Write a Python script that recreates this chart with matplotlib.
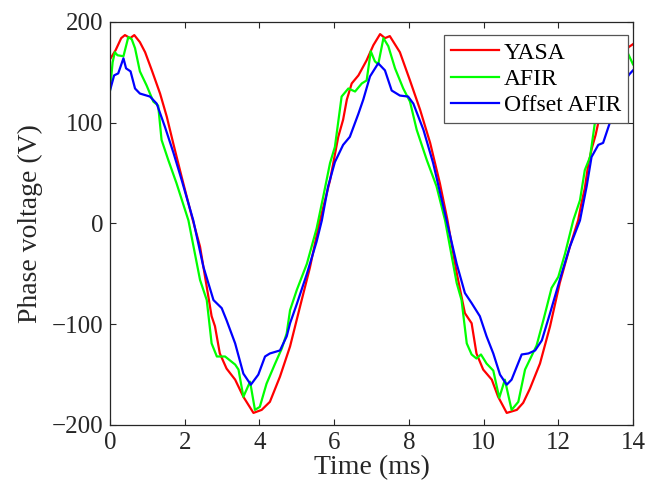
import matplotlib
matplotlib.use("Agg")
import matplotlib.pyplot as plt

plt.rcParams['font.family'] = ['Liberation Serif', 'DejaVu Serif']
plt.rcParams['mathtext.fontset'] = 'stix'

# Time (ms) / voltage (V)
yasa_t = [0.0, 0.15, 0.3, 0.4, 0.54, 0.65, 0.8, 0.94, 1.12, 1.34, 1.52, 1.69, 1.92, 2.19,
          2.41, 2.59, 2.72, 2.81, 2.94, 3.12, 3.35, 3.57, 3.84, 4.06, 4.28, 4.55, 4.82,
          5.09, 5.35, 5.6, 5.89, 6.11, 6.24, 6.34, 6.47, 6.65, 6.87, 7.05, 7.23, 7.36,
          7.49, 7.76, 8.03, 8.3, 8.57, 8.83, 9.03, 9.28, 9.5, 9.68, 9.81, 9.99, 10.22,
          10.39, 10.62, 10.89, 11.06, 11.24, 11.51, 11.78, 12.04, 12.31, 12.53, 12.62,
          12.71, 12.8, 12.9, 13.0, 13.07, 13.3, 13.5, 13.7, 13.88, 14.0]
yasa_v = [163, 172, 184, 187, 184, 187, 180, 170, 152, 129, 106, 80, 46, 7,
          -23, -63, -92, -102, -129, -144, -155, -172, -188, -185, -177, -152, -122,
          -82, -44, 0, 43, 86, 103, 123, 139, 147, 162, 177, 188, 184,
          186, 170, 142, 113, 80, 40, 4, -49, -89, -99, -129, -145, -155,
          -172, -188, -185, -178, -164, -139, -102, -59, -23, 3, 20,
          35, 58, 75, 88, 100, 135, 148, 163, 175, 178]

afir_t = [0.0, 0.07, 0.13, 0.2, 0.36, 0.49, 0.58, 0.67, 0.8, 0.98, 1.16, 1.29, 1.38, 1.56,
          1.78, 2.1, 2.41, 2.59, 2.72, 2.86, 3.08, 3.35, 3.44, 3.57, 3.75, 3.88, 4.01,
          4.19, 4.42, 4.6, 4.73, 4.82, 5.0, 5.27, 5.53, 5.71, 5.89, 6.02, 6.2, 6.38,
          6.56, 6.74, 6.87, 6.98, 7.09, 7.18, 7.32, 7.45, 7.63, 7.85, 8.03, 8.21, 8.48,
          8.74, 8.97, 9.28, 9.41, 9.55, 9.68, 9.81, 9.93, 10.08, 10.26, 10.42, 10.57,
          10.75, 10.93, 11.11, 11.24, 11.42, 11.6, 11.69, 11.82, 12.0, 12.18, 12.4,
          12.58, 12.71, 12.85, 12.98, 13.1, 13.28, 13.45, 13.62, 13.75, 13.85, 13.95, 14.0]
afir_v = [132, 160, 170, 167, 166, 185, 183, 174, 151, 137, 121, 117, 83, 63,
          40, 3, -56, -76, -119, -132, -132, -140, -145, -172, -157, -185, -182,
          -159, -139, -124, -109, -86, -66, -40, -5, 27, 60, 76, 126, 134,
          131, 139, 142, 171, 161, 158, 184, 176, 154, 134, 121, 93, 63,
          37, 3, -59, -76, -119, -130, -134, -130, -139, -146, -173, -155,
          -185, -177, -145, -135, -121, -96, -83, -64, -53, -30, 3,
          23, 53, 66, 100, 126, 134, 131, 139, 142, 170, 162, 158]

offset_t = [0.0, 0.11, 0.22, 0.36, 0.43, 0.55, 0.67, 0.8, 1.07, 1.25, 1.47, 1.7, 1.92, 2.23,
            2.5, 2.77, 2.99, 3.12, 3.35, 3.57, 3.77, 3.97, 4.15, 4.28, 4.55, 4.73, 4.82,
            5.0, 5.27, 5.53, 5.67, 5.84, 6.02, 6.24, 6.42, 6.65, 6.78, 6.96, 7.18, 7.36,
            7.54, 7.76, 7.98, 8.12, 8.39, 8.65, 9.01, 9.28, 9.5, 9.68, 9.9, 10.08, 10.26,
            10.44, 10.62, 10.75, 10.89, 11.02, 11.2, 11.38, 11.56, 11.78, 12.04, 12.31,
            12.58, 12.76, 12.89, 13.07, 13.2, 13.38, 13.55, 13.75, 13.9, 14.0]
offset_v = [132, 147, 149, 164, 154, 151, 134, 129, 126, 119, 96, 70, 43, 3,
            -43, -76, -84, -96, -119, -149, -160, -150, -132, -129, -126, -112, -99,
            -80, -50, -18, 3, 37, 61, 78, 86, 109, 123, 146, 159, 152,
            132, 127, 126, 119, 93, 60, 3, -40, -69, -79, -92, -112, -129,
            -150, -160, -155, -142, -130, -129, -126, -116, -89, -56, -23,
            3, 37, 66, 78, 80, 100, 120, 140, 148, 152]

series_labels = ['YASA', 'AFIR', 'Offset AFIR']
series_colors = ['#ff0000', '#00ff00', '#0000ff']
x_ticks = [0, 2, 4, 6, 8, 10, 12, 14]
y_ticks = [-200, -100, 0, 100, 200]

fig = plt.figure(figsize=(6.5, 4.99), dpi=100)
ax = fig.add_axes([110/650, 1-425/499, 523/650, 403/499])

for t, v, lab, col in zip([yasa_t, afir_t, offset_t], [yasa_v, afir_v, offset_v],
                          series_labels, series_colors):
    ax.plot(t, v, color=col, lw=1.6, label=lab)

ax.set_xlim(0, 14)
ax.set_ylim(-200, 200)
ax.set_xticks(x_ticks)
ax.set_yticks(y_ticks)
ax.tick_params(direction='in', top=True, right=True, length=4, width=0.8,
               labelsize=18, colors='#262626', pad=5)
for s in ax.spines.values():
    s.set_linewidth(0.9)
    s.set_color('#262626')
ax.set_xlabel('Time (ms)', fontsize=20, color='#262626', labelpad=1)
ax.set_ylabel('Phase voltage (V)', fontsize=20, color='#262626', labelpad=6)

leg = ax.legend(loc='upper right', bbox_to_anchor=((628.3-110)/523, (425-35)/403),
                borderaxespad=0, fontsize=17, frameon=True, fancybox=False,
                handlelength=2.05, handletextpad=0.2, labelspacing=0.2,
                borderpad=0.3, framealpha=1)
leg.get_frame().set_edgecolor('#555555')
leg.get_frame().set_linewidth(0.9)

fig.savefig('out.png', dpi=100)
